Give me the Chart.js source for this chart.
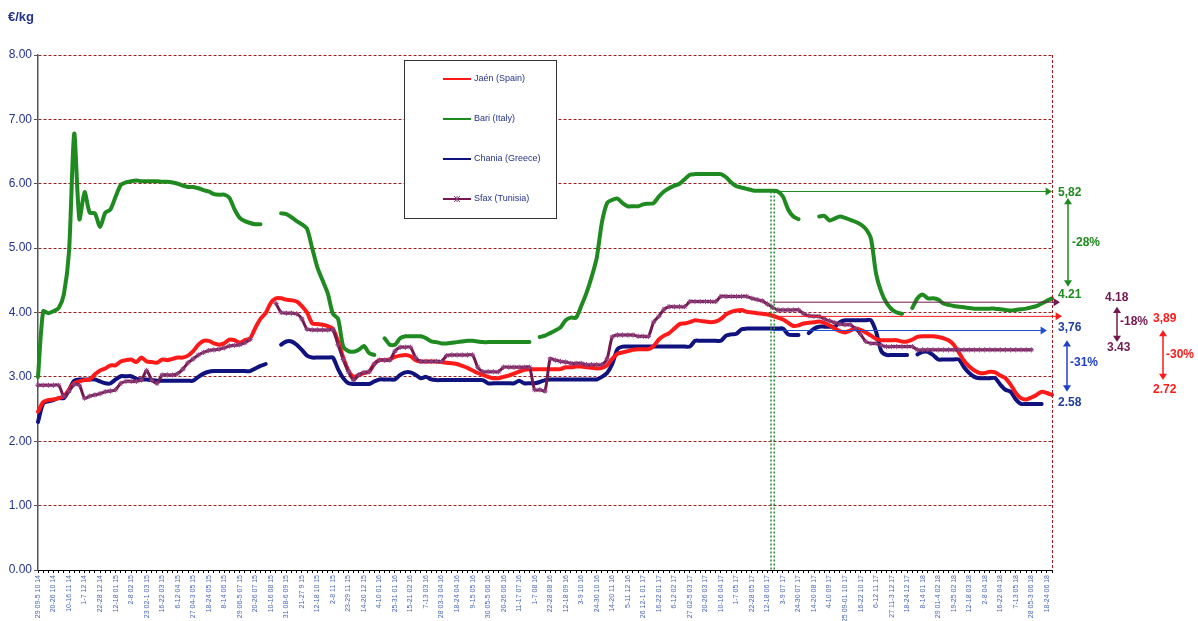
<!DOCTYPE html>
<html>
<head>
<meta charset="utf-8">
<script src="https://cdn.jsdelivr.net/npm/chart.js@4.4.1/dist/chart.umd.min.js"></script>
<style>
  body { margin: 0; background: #fff; }
  #wrap { width: 1198px; height: 621px; position: relative; }
</style>
</head>
<body>
<div id="wrap"><canvas id="priceChart"></canvas></div>
<script>
// tick labels, one every 3 weeks
const tickLabels = [
  '29 09-5 10 14', '20-26 10 14', '10-16 11 14', '1-7 12 14', '22-28 12 14', '12-18 01 15',
  '2-8 02 15', '23 02-1 03 15', '16-22 03 15', '6-12 04 15', '27 04-3 05 15', '18-24 05 15',
  '8-14 06 15', '29 06-5 07 15', '20-26 07 15', '10-16 08 15', '31 08-6 09 15', '21-27 9 15',
  '12-18 10 15', '2-8 11 15', '23-29 11 15', '14-20 12 15', '4-10 01 16', '25-31 01 16',
  '15-21 02 16', '7-13 03 16', '28 03-3 04 16', '18-24 04 16', '9-15 05 16', '30 05-5 06 16',
  '20-26 06 16', '11-17 07 16', '1-7 08 16', '22-28 08 16', '12-18 09 16', '3-9 10 16',
  '24-30 10 16', '14-20 11 16', '5-11 12 16', '26 12-1 01 17', '16-22 01 17', '6-12 02 17',
  '27 02-5 03 17', '20-26 03 17', '10-16 04 17', '1-7 05 17', '22-28 05 17', '12-18 06 17',
  '3-9 07 17', '24-30 07 17', '14-20 08 17', '4-10 09 17', '25 09-01 10 17', '16-22 10 17',
  '6-12 11 17', '27 11-3 12 17', '18-24 12 17', '8-14 01 18', '29 01-4 02 18', '19-25 02 18',
  '12-18 03 18', '2-8 04 18', '16-22 04 18', '7-13 05 18', '28 05-3 06 18', '18-24 06 18'
];

const seriesNames = ['Jaén (Spain)', 'Bari (Italy)', 'Chania (Greece)', 'Sfax (Tunisia)'];

// weekly prices, €/kg
const jaen = [
  2.46, 2.61, 2.64, 2.65, 2.67, 2.70, 2.80, 2.90, 2.93, 2.95,
  2.96, 3.04, 3.10, 3.13, 3.18, 3.18, 3.24, 3.26, 3.27, 3.23,
  3.30, 3.24, 3.23, 3.22, 3.27, 3.26, 3.28, 3.30, 3.30, 3.33,
  3.40, 3.50, 3.56, 3.56, 3.52, 3.50, 3.52, 3.58, 3.57, 3.53,
  3.57, 3.60, 3.76, 3.90, 3.99, 4.15, 4.22, 4.22, 4.20, 4.19,
  4.17, 4.10, 4.00, 3.83, 3.82, 3.81, 3.79, 3.75, 3.55, 3.30,
  3.10, 3.00, 3.03, 3.06, 3.08, 3.20, 3.26, 3.26, 3.27, 3.31,
  3.33, 3.34, 3.32, 3.26, 3.24, 3.24, 3.24, 3.24, 3.23, 3.22,
  3.21, 3.20, 3.17, 3.14, 3.10, 3.06, 3.03, 3.00, 2.98, 2.98,
  3.00, 3.02, 3.05, 3.08, 3.11, 3.12, 3.12, 3.12, 3.12, 3.12,
  3.12, 3.12, 3.15, 3.15, 3.16, 3.16, 3.15, 3.14, 3.13, 3.14,
  3.18, 3.28, 3.36, 3.38, 3.40, 3.42, 3.43, 3.43, 3.43, 3.48,
  3.58, 3.64, 3.68, 3.75, 3.82, 3.83, 3.85, 3.88, 3.87, 3.86,
  3.85, 3.86, 3.90, 3.97, 4.01, 4.03, 4.04, 4.01, 4.00, 3.99,
  3.98, 3.97, 3.95, 3.92, 3.89, 3.84, 3.79, 3.80, 3.83, 3.84,
  3.85, 3.86, 3.84, 3.80, 3.75, 3.71, 3.69, 3.72, 3.75, 3.73,
  3.69, 3.64, 3.59, 3.57, 3.57, 3.57, 3.57, 3.55, 3.55, 3.58,
  3.62, 3.63, 3.63, 3.63, 3.62, 3.60, 3.57, 3.50, 3.38, 3.25,
  3.16, 3.10, 3.06, 3.06, 3.08, 3.07, 3.02, 2.98, 2.88, 2.75,
  2.67, 2.65, 2.68, 2.72, 2.77, 2.75, 2.72
];

const bari = [
  3.00, 4.02, 3.99, 4.02, 4.07, 4.28, 4.95, 6.78, 5.45, 5.87,
  5.55, 5.54, 5.33, 5.55, 5.60, 5.80, 5.98, 6.02, 6.04, 6.05,
  6.04, 6.04, 6.04, 6.04, 6.03, 6.03, 6.02, 6.00, 5.97, 5.95,
  5.95, 5.93, 5.90, 5.88, 5.84, 5.83, 5.83, 5.78, 5.60, 5.47,
  5.42, 5.39, 5.37, 5.37, null, null, null, 5.54, 5.53, 5.48,
  5.42, 5.37, 5.30, 5.00, 4.70, 4.50, 4.30, 3.98, 3.90, 3.47,
  3.40, 3.39, 3.42, 3.48, 3.37, 3.34, null, 3.60, 3.50, 3.50,
  3.60, 3.63, 3.63, 3.63, 3.63, 3.60, 3.55, 3.54, 3.52, 3.52,
  3.53, 3.54, 3.55, 3.56, 3.56, 3.55, 3.54, 3.54, 3.54, 3.54,
  3.54, 3.54, 3.54, 3.54, 3.54, 3.54, null, 3.62, 3.64, 3.68,
  3.72, 3.77, 3.88, 3.92, 3.92, 4.10, 4.30, 4.55, 4.85, 5.40,
  5.70, 5.75, 5.77, 5.70, 5.65, 5.65, 5.65, 5.68, 5.69, 5.70,
  5.80, 5.88, 5.93, 5.97, 6.00, 6.07, 6.14, 6.15, 6.15, 6.15,
  6.15, 6.15, 6.15, 6.10, 6.02, 5.96, 5.94, 5.92, 5.90, 5.89,
  5.89, 5.89, 5.89, 5.88, 5.80, 5.60, 5.49, 5.45, null, null,
  null, 5.49, 5.50, 5.43, 5.46, 5.49, 5.47, 5.44, 5.41, 5.37,
  5.30, 5.15, 4.60, 4.32, 4.15, 4.05, 4.00, 3.98, null, 4.07,
  4.22, 4.28, 4.22, 4.22, 4.20, 4.14, 4.12, 4.10, 4.09, 4.08,
  4.07, 4.06, 4.06, 4.06, 4.06, 4.06, 4.05, 4.04, 4.03, 4.04,
  4.05, 4.06, 4.08, 4.10, 4.14, 4.18, 4.22
];

const chania = [
  2.30, 2.59, 2.62, 2.64, 2.67, 2.67, 2.80, 2.94, 2.96, 2.96,
  2.96, 2.96, 2.93, 2.90, 2.90, 2.96, 3.01, 3.01, 3.01, 2.97,
  2.96, 2.96, 2.95, 2.94, 2.94, 2.94, 2.94, 2.94, 2.94, 2.94,
  2.94, 3.00, 3.05, 3.08, 3.09, 3.09, 3.09, 3.09, 3.09, 3.09,
  3.09, 3.09, 3.13, 3.17, 3.20, null, null, 3.50, 3.55, 3.55,
  3.50, 3.42, 3.33, 3.30, 3.30, 3.30, 3.30, 3.30, 3.12, 2.98,
  2.90, 2.89, 2.89, 2.89, 2.89, 2.93, 2.96, 2.96, 2.96, 2.96,
  3.03, 3.07, 3.07, 3.03, 2.98, 3.00, 2.96, 2.95, 2.95, 2.95,
  2.95, 2.95, 2.95, 2.95, 2.95, 2.95, 2.95, 2.90, 2.90, 2.90,
  2.90, 2.90, 2.90, 2.94, 2.90, 2.90, 2.90, 2.92, 2.95, 2.96,
  2.96, 2.96, 2.96, 2.96, 2.96, 2.96, 2.96, 2.96, 2.96, 3.00,
  3.06, 3.20, 3.43, 3.47, 3.47, 3.47, 3.47, 3.47, 3.47, 3.47,
  3.47, 3.47, 3.47, 3.47, 3.47, 3.47, 3.47, 3.56, 3.56, 3.56,
  3.56, 3.56, 3.56, 3.64, 3.66, 3.67, 3.74, 3.75, 3.75, 3.75,
  3.75, 3.75, 3.75, 3.75, 3.75, 3.66, 3.65, 3.65, null, 3.68,
  3.75, 3.78, 3.78, 3.78, 3.78, 3.85, 3.88, 3.88, 3.88, 3.88,
  3.88, 3.88, 3.70, 3.40, 3.34, 3.34, 3.34, 3.34, 3.34, null,
  3.35, 3.39, 3.39, 3.34, 3.27, 3.27, 3.27, 3.27, 3.27, 3.15,
  3.06, 3.00, 2.98, 2.98, 2.98, 2.98, 2.88, 2.80, 2.77, 2.65,
  2.58, 2.58, 2.58, 2.58, 2.58, null, null
];

const sfax = [
  2.87, 2.87, 2.87, 2.87, 2.87, 2.70, 2.78, 2.88, 2.87, 2.67,
  2.70, 2.72, 2.74, 2.77, 2.78, 2.80, 2.90, 2.93, 2.93, 2.93,
  2.95, 3.10, 2.95, 2.90, 3.03, 3.03, 3.03, 3.05, 3.12, 3.22,
  3.28, 3.34, 3.38, 3.41, 3.42, 3.43, 3.45, 3.48, 3.49, 3.50,
  3.53, 3.58, null, null, null, null, 4.14, 4.00, 3.99, 3.99,
  3.98, 3.90, 3.74, 3.73, 3.73, 3.73, 3.73, 3.73, 3.50, 3.27,
  3.08, 2.95, 3.03, 3.07, 3.08, 3.20, 3.26, 3.26, 3.26, 3.40,
  3.46, 3.46, 3.46, 3.30, 3.24, 3.24, 3.24, 3.24, 3.24, 3.33,
  3.34, 3.34, 3.34, 3.34, 3.34, 3.15, 3.08, 3.08, 3.08, 3.08,
  3.15, 3.15, 3.15, 3.15, 3.15, 3.15, 2.80, 2.80, 2.78, 3.28,
  3.26, 3.24, 3.23, 3.21, 3.21, 3.21, 3.19, 3.19, 3.19, 3.19,
  3.28, 3.62, 3.65, 3.65, 3.65, 3.65, 3.63, 3.63, 3.63, 3.85,
  3.94, 4.05, 4.09, 4.09, 4.09, 4.09, 4.17, 4.17, 4.17, 4.17,
  4.17, 4.17, 4.25, 4.25, 4.25, 4.25, 4.25, 4.25, 4.22, 4.20,
  4.18, 4.13, 4.08, 4.04, 4.04, 4.04, 4.04, 4.04, 3.98, 3.95,
  3.94, 3.94, 3.90, 3.87, 3.84, 3.82, 3.81, 3.81, 3.75, 3.66,
  3.55, 3.52, 3.52, 3.49, 3.47, 3.47, 3.47, 3.47, 3.47, 3.47,
  3.42, 3.42, 3.42, 3.42, 3.42, 3.42, 3.42, 3.42, 3.42, 3.42,
  3.42, 3.42, 3.42, 3.42, 3.42, 3.42, 3.42, 3.42, 3.42, 3.42,
  3.42, 3.42, 3.42, null, null, null, null
];

const yTicks = [0, 1, 2, 3, 4, 5, 6, 7, 8];

// week of the reference (dotted line) and the levels the arrows point at
const markWeek = 142;
const markLevels = { bari: 5.88, sfax: 4.16, jaen: 3.94, chania: 3.72 };

const colors = {
  jaen: '#ff1a1a',
  bari: '#1f8a1f',
  chania: '#10127e',
  sfax: '#74194f',
  sfaxMark: '#8e3f7e',
  text: '#24338c',
  grid: '#9b1c1c'
};

const weeks = bari.map((v, i) => (i % 3 === 0 && tickLabels[i / 3]) ? tickLabels[i / 3] : '');

function arrowHead(ctx, x, y, dir, size) {
  // dir: 'r', 'u', 'd'
  ctx.beginPath();
  if (dir === 'r') { ctx.moveTo(x, y); ctx.lineTo(x - size * 1.6, y - size); ctx.lineTo(x - size * 1.6, y + size); }
  if (dir === 'u') { ctx.moveTo(x, y); ctx.lineTo(x - size, y + size * 1.6); ctx.lineTo(x + size, y + size * 1.6); }
  if (dir === 'd') { ctx.moveTo(x, y); ctx.lineTo(x - size, y - size * 1.6); ctx.lineTo(x + size, y - size * 1.6); }
  ctx.closePath();
  ctx.fill();
}

function hArrow(ctx, x1, x2, y, color) {
  ctx.strokeStyle = color; ctx.fillStyle = color; ctx.lineWidth = 1;
  ctx.beginPath(); ctx.moveTo(x1, y); ctx.lineTo(x2 - 6, y); ctx.stroke();
  arrowHead(ctx, x2, y, 'r', 4);
}

function vArrow(ctx, x, y1, y2, color) {
  ctx.strokeStyle = color; ctx.fillStyle = color; ctx.lineWidth = 1.5;
  ctx.beginPath(); ctx.moveTo(x, y1 + 6); ctx.lineTo(x, y2 - 6); ctx.stroke();
  arrowHead(ctx, x, y1, 'u', 4);
  arrowHead(ctx, x, y2, 'd', 4);
}

const overlay = {
  id: 'overlay',
  afterDatasetsDraw(chart) {
    const { ctx, chartArea: a, scales: { x, y } } = chart;
    ctx.save();

    // right border of plot
    ctx.strokeStyle = colors.grid; ctx.lineWidth = 1; ctx.setLineDash([3, 2]);
    ctx.beginPath(); ctx.moveTo(a.right + 0.5, a.top); ctx.lineTo(a.right + 0.5, a.bottom); ctx.stroke();

    // dotted double line at the reference week
    const xm = x.getPixelForValue(markWeek);
    ctx.strokeStyle = '#2a8a35'; ctx.lineWidth = 1.5; ctx.setLineDash([2, 2]);
    [-1.6, 1.6].forEach(d => {
      ctx.beginPath(); ctx.moveTo(xm + d, y.getPixelForValue(markLevels.bari)); ctx.lineTo(xm + d, a.bottom); ctx.stroke();
    });
    ctx.setLineDash([]);

    // horizontal arrows to the right edge
    hArrow(ctx, xm, a.right, y.getPixelForValue(markLevels.bari), colors.bari);
    hArrow(ctx, xm, a.right + 8, y.getPixelForValue(markLevels.sfax), colors.sfax);
    hArrow(ctx, xm, a.right + 10, y.getPixelForValue(markLevels.jaen), colors.jaen);
    hArrow(ctx, xm, a.right - 5, y.getPixelForValue(markLevels.chania), '#1f4fd0');

    // change arrows and labels
    const R = a.right;
    vArrow(ctx, R + 16, y.getPixelForValue(5.78), y.getPixelForValue(4.40), colors.bari);
    vArrow(ctx, R + 65, y.getPixelForValue(4.09), y.getPixelForValue(3.54), colors.sfax);
    vArrow(ctx, R + 111, y.getPixelForValue(3.73), y.getPixelForValue(2.95), colors.jaen);
    vArrow(ctx, R + 15, y.getPixelForValue(3.57), y.getPixelForValue(2.77), '#1f3fc8');

    ctx.font = 'bold 12px "Liberation Sans", Arial, sans-serif';
    ctx.textBaseline = 'middle'; ctx.textAlign = 'left';
    const txt = (s, dx, v, c) => { ctx.fillStyle = c; ctx.fillText(s, R + dx, y.getPixelForValue(v)); };
    txt('5,82', 6, 5.86, colors.bari);
    txt('-28%', 20, 5.08, colors.bari);
    txt('4.21', 6, 4.27, colors.bari);
    txt('4.18', 53, 4.23, colors.sfax);
    txt('-18%', 68, 3.85, colors.sfax);
    txt('3.43', 55, 3.46, colors.sfax);
    txt('3,89', 101, 3.90, colors.jaen);
    txt('-30%', 114, 3.34, colors.jaen);
    txt('2.72', 101, 2.80, colors.jaen);
    txt('3,76', 6, 3.77, '#1f3f9a');
    txt('-31%', 18, 3.22, '#1f3fc8');
    txt('2.58', 6, 2.60, '#1f3f9a');

    ctx.restore();
  },
  afterDraw(chart) {
    const { ctx } = chart;
    ctx.save();
    // unit label
    ctx.font = 'bold 13px "Liberation Sans", Arial, sans-serif';
    ctx.fillStyle = colors.text; ctx.textBaseline = 'middle'; ctx.textAlign = 'left';
    ctx.fillText('€/kg', 8, 17);

    // legend box
    const bx = 404, by = 60, bw = 152, bh = 158;
    ctx.fillStyle = '#fff'; ctx.fillRect(bx, by, bw, bh);
    ctx.strokeStyle = '#333'; ctx.lineWidth = 1;
    ctx.strokeRect(bx + 0.5, by + 0.5, bw, bh);
    ctx.font = '9px "Liberation Sans", Arial, sans-serif';
    const order = [0, 1, 2, 3];
    order.forEach((di, k) => {
      const ds = chart.data.datasets[di];
      const ly = by + 19 + k * 40;
      ctx.strokeStyle = ds.borderColor; ctx.lineWidth = 2;
      ctx.beginPath(); ctx.moveTo(bx + 39, ly); ctx.lineTo(bx + 67, ly); ctx.stroke();
      if (ds.pointRadius > 0) {
        ctx.strokeStyle = ds.pointBorderColor; ctx.lineWidth = 1;
        const cx = bx + 53, r = 3;
        ctx.beginPath();
        ctx.moveTo(cx - r, ly - r); ctx.lineTo(cx + r, ly + r);
        ctx.moveTo(cx + r, ly - r); ctx.lineTo(cx - r, ly + r);
        ctx.moveTo(cx, ly - r); ctx.lineTo(cx, ly + r);
        ctx.stroke();
      }
      ctx.fillStyle = colors.text;
      ctx.fillText(ds.label, bx + 70, ly);
    });
    ctx.restore();
  }
};

new Chart(document.getElementById('priceChart'), {
  type: 'line',
  data: {
    labels: weeks,
    datasets: [
      { label: seriesNames[0], data: jaen, borderColor: colors.jaen, borderWidth: 4, pointRadius: 0, order: 1 },
      { label: seriesNames[1], data: bari, borderColor: colors.bari, borderWidth: 4, pointRadius: 0, order: 3 },
      { label: seriesNames[2], data: chania, borderColor: colors.chania, borderWidth: 4, pointRadius: 0, order: 2 },
      { label: seriesNames[3], data: sfax, borderColor: colors.sfax, borderWidth: 3,
        pointStyle: 'star', pointRadius: 2.6, pointBorderColor: colors.sfaxMark, pointBorderWidth: 1,
        pointBackgroundColor: colors.sfaxMark, order: 0 }
    ]
  },
  options: {
    responsive: true,
    maintainAspectRatio: false,
    animation: false,
    spanGaps: false,
    elements: { line: { tension: 0.25, borderCapStyle: 'round', borderJoinStyle: 'round' } },
    layout: { padding: { top: 55, right: 146, left: 0, bottom: 0 } },
    plugins: { legend: { display: false }, tooltip: { enabled: false } },
    scales: {
      x: {
        type: 'category',
        offset: false,
        afterFit: s => { s.height = 51; },
        grid: { drawOnChartArea: false, tickLength: 3, color: '#000' },
        border: { color: '#000' },
        ticks: {
          autoSkip: false, maxRotation: 90, minRotation: 90, padding: 2,
          color: '#4a66b8', font: { size: 7, family: '"Liberation Sans", Arial, sans-serif' }
        }
      },
      y: {
        min: 0, max: 8,
        afterFit: s => { s.width = 38; },
        afterBuildTicks: s => { s.ticks = yTicks.map(v => ({ value: v })); },
        grid: {
          color: colors.grid, lineWidth: 1, tickLength: 4, tickColor: '#555',
          tickBorderDash: []
        },
        border: { color: '#555', width: 1.5, dash: [3, 2] },
        ticks: {
          padding: 2, color: colors.text,
          font: { size: 12, family: '"Liberation Sans", Arial, sans-serif' },
          callback: v => v.toFixed(2)
        }
      }
    }
  },
  plugins: [overlay]
});
</script>
</body>
</html>
